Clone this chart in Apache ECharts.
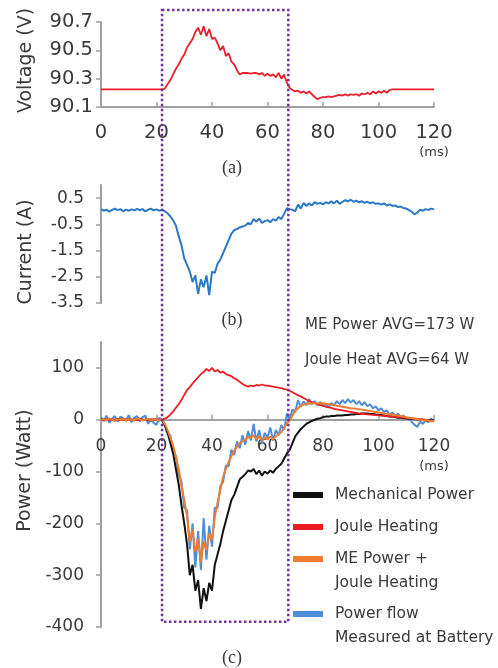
<!DOCTYPE html>
<html><head><meta charset="utf-8">
<script src="https://cdn.jsdelivr.net/npm/echarts@6/dist/echarts.min.js"></script>
<style>html,body{margin:0;padding:0;background:#fff}#c{width:498px;height:668px}</style>
</head><body><div id="c"></div>
<script>
// sample times (ms), 1 ms step
const timeMs = Array.from({length: 121}, (_, i) => i);

const timeTicks = [0, 20, 40, 60, 80, 100, 120];
const voltTicks = [90.1, 90.3, 90.5, 90.7];
const currTicks = [-3.5, -2.5, -1.5, -0.5, 0.5];
const powerTicks = [-400, -300, -200, -100, 0, 100];

const voltage = [
 90.225,90.225,90.225,90.225,90.225,90.225,90.225,90.225,90.225,90.225,
 90.225,90.225,90.225,90.225,90.225,90.225,90.225,90.225,90.225,90.225,
 90.225,90.225,90.225,90.23,90.26,90.29,90.33,90.37,90.40,90.44,
 90.47,90.52,90.55,90.58,90.63,90.66,90.61,90.67,90.60,90.65,
 90.58,90.59,90.55,90.50,90.53,90.46,90.48,90.42,90.40,90.36,
 90.33,90.34,90.34,90.34,90.335,90.34,90.34,90.33,90.34,90.32,
 90.335,90.32,90.33,90.31,90.34,90.30,90.33,90.27,90.235,90.22,
 90.21,90.215,90.20,90.21,90.195,90.21,90.19,90.17,90.155,90.165,
 90.17,90.17,90.175,90.17,90.175,90.18,90.185,90.18,90.19,90.18,
 90.19,90.185,90.19,90.18,90.195,90.19,90.20,90.19,90.21,90.195,
 90.21,90.20,90.215,90.20,90.22,90.225,90.225,90.225,90.225,90.225,
 90.225,90.225,90.225,90.225,90.225,90.225,90.225,90.225,90.225,90.225,
 90.225
];

const current = [
 0.08,0.02,0.06,-0.02,0.05,0.10,0.04,0.08,0.00,0.06,
 0.02,0.07,0.03,0.09,0.04,0.08,-0.01,0.06,0.10,0.03,
 0.07,0.02,0.06,0.00,-0.08,-0.20,-0.35,-0.55,-0.95,-1.30,
 -1.80,-2.05,-2.30,-2.70,-2.45,-3.15,-2.60,-2.90,-2.45,-3.20,
 -2.30,-2.35,-2.00,-1.85,-1.60,-1.35,-1.10,-0.85,-0.72,-0.68,
 -0.62,-0.58,-0.55,-0.45,-0.50,-0.30,-0.40,-0.28,-0.45,-0.38,
 -0.34,-0.42,-0.30,-0.36,-0.22,-0.30,-0.10,0.12,0.08,0.05,
 0.00,0.25,0.10,0.32,0.20,0.30,0.22,0.35,0.28,0.32,
 0.26,0.34,0.30,0.38,0.30,0.40,0.28,0.36,0.42,0.38,
 0.44,0.36,0.40,0.34,0.38,0.32,0.36,0.30,0.34,0.28,
 0.30,0.25,0.30,0.22,0.26,0.20,0.22,0.16,0.18,0.12,
 0.10,0.04,-0.02,-0.12,-0.05,0.06,0.02,0.08,0.05,0.10,
 0.07
];

const mechPower = [
 0,1,-1,2,0,-1,1,0,2,-1,
 1,0,-1,1,2,-1,0,1,-2,1,
 0,-1,0,-10,-25,-45,-65,-95,-125,-165,
 -200,-240,-300,-280,-330,-310,-365,-325,-350,-315,
 -330,-280,-260,-240,-215,-195,-175,-155,-145,-130,
 -115,-110,-105,-98,-100,-95,-105,-98,-108,-100,
 -104,-98,-102,-95,-90,-85,-75,-65,-58,-45,
 -32,-25,-18,-13,-8,-5,-2,0,2,3,
 5,6,6,7,7,8,8,8,9,9,
 10,10,11,11,12,12,12,11,11,10,
 9,9,8,7,6,6,5,4,4,3,
 3,2,2,1,1,0,0,-1,-1,-1,
 -2
];

const joulePower = [
 0,0,0,0,0,0,0,0,0,0,
 0,0,0,0,0,0,0,0,0,0,
 0,0,0,2,5,10,16,23,30,38,
 48,57,63,70,76,82,88,92,98,94,
 100,93,96,91,93,88,86,84,80,77,
 73,69,66,64,66,65,67,66,68,66,
 66,65,64,63,62,61,59,58,56,53,
 50,47,45,42,39,36,34,32,30,28,
 27,25,24,23,21,20,19,18,17,16,
 15,14,13,12,11.5,11,10.5,10,9.5,9,
 8.5,8,7.5,7,6.5,6,5.5,5,4.5,4,
 3.5,3,2.5,2,1.5,1,0.5,0,-1,-2,
 -3
];

const mePlusJoule = [
 0,1,-1,2,0,-2,1,0,2,-1,
 1,0,-1,2,1,-1,0,2,-2,1,
 0,-1,0,-8,-20,-35,-50,-72,-95,-128,
 -155,-185,-235,-212,-255,-230,-275,-235,-252,-220,
 -232,-188,-160,-135,-110,-95,-82,-70,-60,-52,
 -45,-42,-38,-34,-34,-30,-38,-32,-40,-34,
 -38,-33,-38,-32,-28,-24,-16,-7,-2,8,
 18,22,27,29,31,31,32,32,32,32,
 32,31,30,29,28,27,26,25,24,23,
 22,21.5,21,20,19.5,19,18,17,16,15,
 14,13,12,11.5,11,10,9,8,7,6,
 5,4,3,2,1,0,-1,-1,-2,-3,
 -3
];

const batteryPower = [
 5,-3,8,-6,2,7,-4,6,3,-2,
 9,-5,4,7,-3,5,8,-8,2,-6,
 -10,4,-2,-12,-28,-30,-62,-70,-105,-120,
 -170,-175,-250,-200,-285,-215,-290,-190,-270,-205,
 -245,-170,-170,-128,-120,-88,-90,-58,-68,-42,
 -55,-30,-48,-22,-40,-8,-42,-20,-45,-25,
 -35,-15,-40,-20,-30,-10,-20,12,0,20,
 15,38,25,35,28,40,30,36,28,34,
 26,30,24,32,28,36,30,38,32,40,
 33,38,30,36,28,34,26,30,22,26,
 18,22,15,18,10,14,8,12,5,8,
 2,4,-4,-10,-14,-4,-8,0,-5,2,
 -3
];

// highlighted window (ms)
const windowStartMs = 22;
const windowEndMs = 67.5;

const FONT = '"DejaVu Sans", Verdana, sans-serif';
const TXT = '#3a3a3a';
const AXC = '#a0a0a0';

const pairs = arr => timeMs.map((t, i) => [t, arr[i]]);

function xAxisCfg(grid, show, fs, margin) {
  return {
    type: 'value', gridIndex: grid, min: 0, max: 120, show: show, position: 'bottom',
    axisLine: {onZero: false, lineStyle: {color: AXC, width: 2}},
    axisTick: {inside: true, length: 5, customValues: timeTicks, lineStyle: {color: AXC, width: 1.5}},
    splitLine: {show: false},
    axisLabel: {
      customValues: timeTicks, margin: margin, color: TXT, fontFamily: FONT, fontSize: fs, lineHeight: 22,
      formatter: v => v === 120 ? '120\n{u|(ms)}' : String(v),
      rich: {u: {fontSize: 13, lineHeight: 17, color: TXT, fontFamily: FONT}}
    }
  };
}
function yAxisCfg(grid, min, max, ticks, dec, fs, margin, name, nameGap, namePad) {
  return {
    type: 'value', gridIndex: grid, min: min, max: max,
    axisLine: {show: true, onZero: false, lineStyle: {color: AXC, width: 2}},
    axisTick: {show: true, length: 5, customValues: ticks, lineStyle: {color: AXC, width: 1.5}},
    splitLine: {show: false},
    axisLabel: {customValues: ticks, margin: margin, color: TXT, fontFamily: FONT, fontSize: fs,
      formatter: v => Number(v).toFixed(dec)},
    name: name, nameLocation: 'middle', nameGap: nameGap,
    nameTextStyle: {color: TXT, fontFamily: FONT, fontSize: 19, padding: namePad}
  };
}

const chart = echarts.init(document.getElementById('c'), null, {renderer: 'canvas'});

const lineS = (name, data, color, xi, width, z) => ({
  type: 'line', name: name, data: data, xAxisIndex: xi, yAxisIndex: xi,
  showSymbol: false, symbol: 'none', color: color, z: z,
  lineStyle: {color: color, width: width}, emphasis: {disabled: true}
});

const legendDefs = [
  {name: 'Mechanical Power', label: 'Mechanical Power', top: 483},
  {name: 'Joule Heating', label: 'Joule Heating', top: 515},
  {name: 'ME Power + Joule Heating', label: '\nME Power +\nJoule Heating', top: 523},
  {name: 'Power flow Measured at Battery', label: '\nPower flow\nMeasured at Battery', top: 578}
];

const gridBase = {outerBoundsMode: 'none', containLabel: false};

chart.setOption({
  animation: false,
  backgroundColor: '#fff',
  grid: [
    Object.assign({left: 101, top: 22, width: 333, height: 85}, gridBase),
    Object.assign({left: 101, top: 185, width: 333, height: 118}, gridBase),
    Object.assign({left: 101, top: 342, width: 333, height: 285}, gridBase)
  ],
  xAxis: [xAxisCfg(0, true, 19.5, 15), xAxisCfg(1, false, 17, 15), xAxisCfg(2, true, 17, 16)],
  yAxis: [
    yAxisCfg(0, 90.1, 90.7, voltTicks, 1, 19.5, 8, 'Voltage (V)', 65, [0, 0, 0, 8]),
    yAxisCfg(1, -3.5, 1.0, currTicks, 1, 17, 17, 'Current (A)', 65, [0, 16, 0, 0]),
    yAxisCfg(2, -400, 150, powerTicks, 0, 17, 17, 'Power (Watt)', 65, [0, 0, 0, 28])
  ],
  legend: legendDefs.map(d => ({
    data: [d.name], left: 293, top: d.top, orient: 'vertical', icon: 'rect',
    itemWidth: 30, itemHeight: 6, padding: 0, selectedMode: false,
    formatter: () => d.label,
    textStyle: {color: TXT, fontFamily: FONT, fontSize: 15.5, lineHeight: 24, padding: [0, 0, 0, 7]}
  })),
  series: [
    lineS('Voltage', pairs(voltage), '#e8212b', 0, 1.8, 2),
    lineS('Current', pairs(current), '#2a78c6', 1, 2, 2),
    lineS('Power flow Measured at Battery', pairs(batteryPower), '#4f8ed6', 2, 2, 2),
    lineS('Mechanical Power', pairs(mechPower), '#111111', 2, 2, 3),
    lineS('Joule Heating', pairs(joulePower), '#ec1c24', 2, 1.8, 4),
    lineS('ME Power + Joule Heating', pairs(mePlusJoule), '#ee7d31', 2, 2, 4)
  ]
});

// put the power time axis on the zero line (through the value scale)
const yZero = chart.convertToPixel({yAxisIndex: 2}, 0);
const yMinPx = chart.convertToPixel({yAxisIndex: 2}, -400);

// dotted window box via the axes' scales
const xL = chart.convertToPixel({xAxisIndex: 0}, windowStartMs);
const xR = chart.convertToPixel({xAxisIndex: 0}, windowEndMs);
const yT = chart.convertToPixel({yAxisIndex: 0}, 90.785);
const yB = chart.convertToPixel({yAxisIndex: 2}, -390);

const txt = (text, x, y, font, align) => ({
  type: 'text', x: x, y: y, silent: true,
  style: {text: text, fill: TXT, font: font, textAlign: align || 'left', textVerticalAlign: 'middle'}
});

chart.setOption({
  xAxis: [{}, {}, {offset: yZero - yMinPx}],
  graphic: [
    {type: 'rect', silent: true, z: 10,
     shape: {x: xL, y: yT, width: xR - xL, height: yB - yT},
     style: {fill: 'none', stroke: '#7030a0', lineWidth: 2.5, lineDash: [2.5, 2.5]}},
    txt('(a)', 232, 168, '18px "Liberation Serif", serif', 'center'),
    txt('(b)', 232, 320, '18px "Liberation Serif", serif', 'center'),
    txt('(c)', 232, 658, '18px "Liberation Serif", serif', 'center'),
    txt('ME Power AVG=173 W', 305, 325, '15px ' + FONT),
    txt('Joule Heat AVG=64 W', 305, 360, '15px ' + FONT)
  ]
});
</script></body></html>
